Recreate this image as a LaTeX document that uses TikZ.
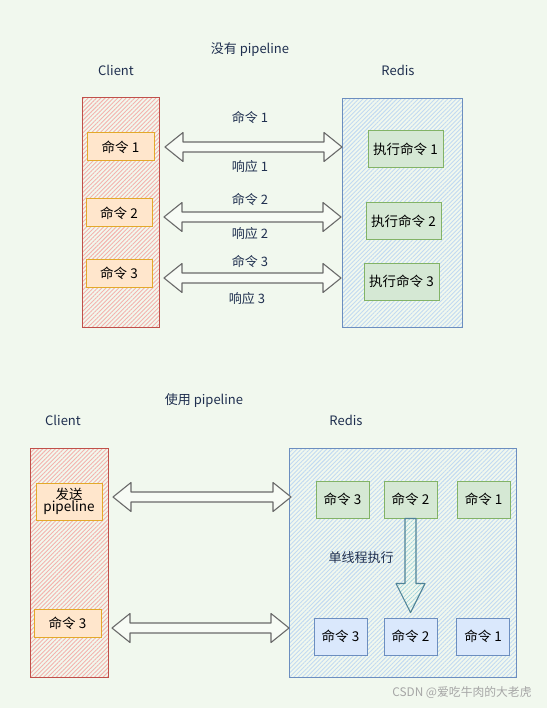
\documentclass[tikz,border=0pt]{standalone}
\usepackage{fontspec}
\setmainfont{Noto Sans CJK SC}
\usetikzlibrary{calc,patterns.meta}

\definecolor{bgcol}{HTML}{F1F8EE}
\definecolor{inkcol}{HTML}{1F2F4F}
\definecolor{clientline}{HTML}{C0504A}
\definecolor{clienthatch}{HTML}{F4B2AD}
\definecolor{redisline}{HTML}{6C8EBF}
\definecolor{redishatch}{HTML}{C2DAF2}
\definecolor{cmdfill}{HTML}{FFE6CC}
\definecolor{cmdline}{HTML}{E3A92A}
\definecolor{exefill}{HTML}{D5E8D4}
\definecolor{exeline}{HTML}{82B366}
\definecolor{donefill}{HTML}{DAE8FC}
\definecolor{arrowline}{HTML}{6A6A6A}
\definecolor{flowline}{HTML}{4F8396}
\definecolor{flowhatch}{HTML}{9FD3DD}

\tikzset{
    label/.style={text=inkcol, font=\fontsize{13}{15}\selectfont},
    clientbox/.style={draw=clientline, line width=1pt, inner sep=0pt,
        preaction={fill=bgcol},
        preaction={pattern={Lines[angle=45,distance=3pt,line width=0.9pt]}, pattern color=clienthatch}},
    redisbox/.style={draw=redisline, line width=1pt, inner sep=0pt,
        preaction={fill=bgcol},
        preaction={pattern={Lines[angle=45,distance=3pt,line width=0.9pt]}, pattern color=redishatch}},
    cmdbox/.style={draw=cmdline, fill=cmdfill, line width=1pt, inner sep=0pt,
        font=\fontsize{13.5}{15}\selectfont, align=center},
    exebox/.style={draw=exeline, fill=exefill, line width=1pt, inner sep=0pt,
        font=\fontsize{13.5}{15}\selectfont},
    donebox/.style={draw=redisline, fill=donefill, line width=1pt, inner sep=0pt,
        font=\fontsize{13.5}{15}\selectfont},
    fatarrow/.style={draw=arrowline, fill=bgcol!60!white, line width=1.1pt, line join=round},
    flowarrow/.style={draw=flowline, line width=1.1pt, line join=round,
        preaction={fill=bgcol},
        preaction={pattern={Lines[angle=45,distance=3pt,line width=0.7pt]}, pattern color=flowhatch}}
}

% double arrow between two named end points
\newcommand{\fatlink}[2]{%
    \draw[fatarrow] (#1) -- ++(18,-14.5) -- ++(0,9.5) -- ($(#2)+(-18,-5)$)
        -- ++(0,-9.5) -- (#2) -- ++(-18,14.5) -- ++(0,-9.5) -- ($(#1)+(18,5)$)
        -- ++(0,9.5) -- cycle;}

\begin{document}
\begin{tikzpicture}[x=1pt, y=-1pt]

% background
    \fill[bgcol] (0,0) rectangle (547,708);
    \useasboundingbox (0,0) rectangle (547,708);

% ---------- without pipeline ----------
    \node[label] (title1) at (250,50) {没有 pipeline};
    \node[label] (clientname1) at (116,70) {Client};
    \node[label] (redisname1) at (398,70) {Redis};

% containers
    \node[clientbox, minimum width=77pt, minimum height=229pt] (client1) at (120.5,212.5) {};
    \node[redisbox, minimum width=120pt, minimum height=228pt] (redis1) at (402,213) {};

% commands
    \node[cmdbox, minimum width=67pt, minimum height=28pt] (cmd1) at (120.5,147) {命令 1};
    \node[cmdbox, minimum width=66pt, minimum height=28pt] (cmd2) at (119,213) {命令 2};
    \node[cmdbox, minimum width=66pt, minimum height=28pt] (cmd3) at (119,273) {命令 3};

% execution
    \node[exebox, minimum width=75pt, minimum height=37pt] (exe1) at (405.5,149.5) {执行命令 1};
    \node[exebox, minimum width=75pt, minimum height=37pt] (exe2) at (403.5,221.5) {执行命令 2};
    \node[exebox, minimum width=75pt, minimum height=37pt] (exe3) at (401.5,281.5) {执行命令 3};

% requests and replies
    \coordinate (send1) at (165,147);  \coordinate (recv1) at (342,147);
    \coordinate (send2) at (164,217);  \coordinate (recv2) at (341,217);
    \coordinate (send3) at (164,278);  \coordinate (recv3) at (341,278);
    \fatlink{send1}{recv1}
    \fatlink{send2}{recv2}
    \fatlink{send3}{recv3}
    \node[label] (req1) at (250,118) {命令 1};
    \node[label] (resp1) at (250,167) {响应 1};
    \node[label] (req2) at (250,200) {命令 2};
    \node[label] (resp2) at (250,234) {响应 2};
    \node[label] (req3) at (250,262) {命令 3};
    \node[label] (resp3) at (247,299) {响应 3};

% ---------- with pipeline ----------
    \node[label] (title2) at (204,401) {使用 pipeline};
    \node[label] (clientname2) at (63,420) {Client};
    \node[label] (redisname2) at (346,420) {Redis};

% containers
    \node[clientbox, minimum width=78pt, minimum height=229pt] (client2) at (69,562.5) {};
    \node[redisbox, minimum width=227pt, minimum height=229pt] (redis2) at (402.5,562.5) {};

% client side
    \node[cmdbox, minimum width=66pt, minimum height=37pt] (batch) at (69,501.5) {发送\\[-3pt]pipeline};
    \node[cmdbox, minimum width=67pt, minimum height=28pt] (last) at (67.5,623) {命令 3};

% queued commands
    \node[exebox, minimum width=53pt, minimum height=37pt] (queue3) at (342.5,499.5) {命令 3};
    \node[exebox, minimum width=53pt, minimum height=37pt] (queue2) at (410.5,499.5) {命令 2};
    \node[exebox, minimum width=53pt, minimum height=37pt] (queue1) at (483.5,499.5) {命令 1};

% finished commands
    \node[donebox, minimum width=53pt, minimum height=37pt] (done3) at (340.5,636.5) {命令 3};
    \node[donebox, minimum width=53pt, minimum height=37pt] (done2) at (410.5,636.5) {命令 2};
    \node[donebox, minimum width=53pt, minimum height=37pt] (done1) at (483,636.5) {命令 1};

% links
    \coordinate (send4) at (113,497);  \coordinate (recv4) at (291,497);
    \coordinate (send5) at (112,628);  \coordinate (recv5) at (289,628);
    \fatlink{send4}{recv4}
    \fatlink{send5}{recv5}

% single thread
    \draw[flowarrow] ($(queue2.south)+(-5.5,0)$) -- ++(0,65) -- ++(-9,0)
        -- ($(done2.north)+(0,-5)$) -- ($(queue2.south)+(14.5,65)$) -- ++(-9,0)
        -- ($(queue2.south)+(5.5,0)$) -- cycle;
    \node[label] (thread) at (361,558) {单线程执行};

% watermark
    \node[text=black!35, font=\fontsize{11.8}{13}\selectfont] (mark) at (462,693) {CSDN @爱吃牛肉的大老虎};

\end{tikzpicture}
\end{document}
